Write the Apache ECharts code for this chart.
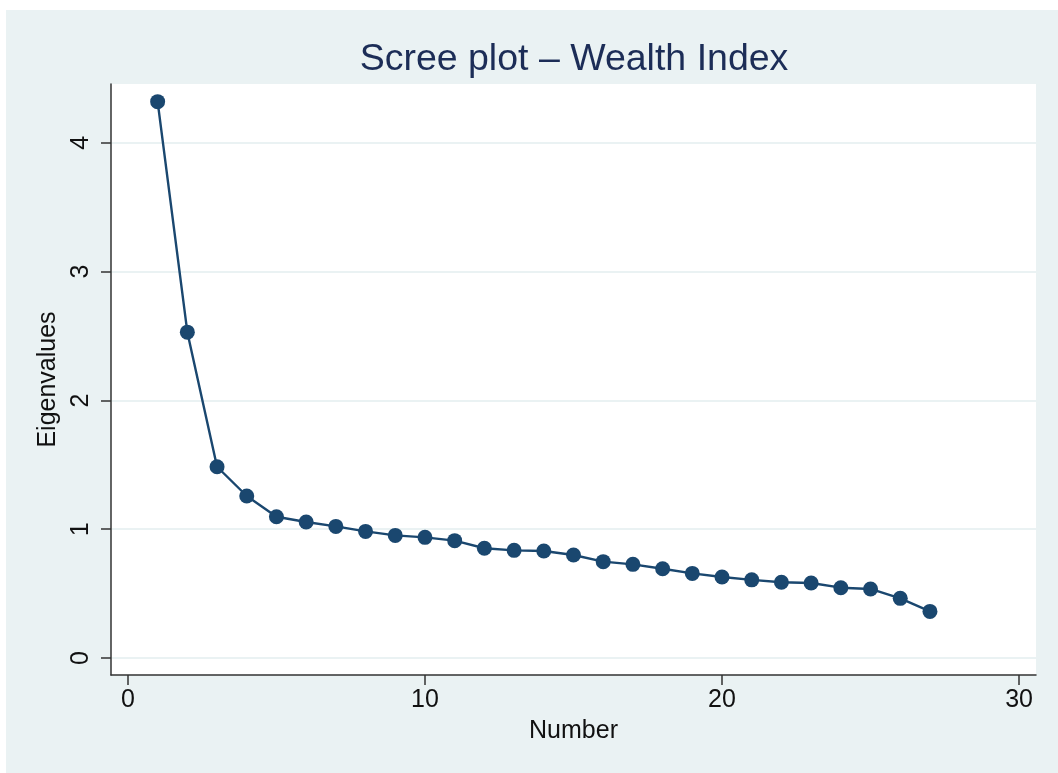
<!DOCTYPE html>
<html>
<head>
<meta charset="utf-8">
<script src="https://cdn.jsdelivr.net/npm/echarts@6/dist/echarts.min.js"></script>
<style>
  html, body { margin:0; padding:0; background:#ffffff; width:1058px; height:773px; overflow:hidden; }
  #chart { position:absolute; left:6px; top:10px; width:1052px; height:763px; background:#eaf2f3; }
</style>
</head>
<body>
<div id="chart"></div>
<script>
const titleText = 'Scree plot \u2013 Wealth Index';
const xName = 'Number';
const yName = 'Eigenvalues';
const components = [1,2,3,4,5,6,7,8,9,10,11,12,13,14,15,16,17,18,19,20,21,22,23,24,25,26,27];
const eigenvalues = [4.32,2.53,1.485,1.258,1.097,1.056,1.022,0.983,0.952,0.937,0.911,0.852,0.836,0.831,0.800,0.748,0.727,0.693,0.657,0.629,0.607,0.588,0.582,0.546,0.536,0.463,0.362];
const xTicks = [0,10,20,30];
const yTicks = [0,1,2,3,4];

const chart = echarts.init(document.getElementById('chart'), null, {renderer:'canvas'});
const font = 'Liberation Sans, Arial, Helvetica, sans-serif';
const axisColor = '#333333';

chart.setOption({
  animation: false,
  backgroundColor: 'transparent',
  title: {
    text: titleText,
    left: 563,
    top: 26,
    textAlign: 'center',
    textStyle: { fontFamily: font, fontSize: 37.5, fontWeight: 'normal', color: '#1c2d57' }
  },
  grid: {
    left: 105, right: 22, top: 74, bottom: 98,
    show: true, backgroundColor: '#ffffff', borderWidth: 0
  },
  xAxis: {
    type: 'value',
    min: -0.57, max: 30.57,
    name: xName,
    nameLocation: 'middle',
    nameGap: 44,
    nameTextStyle: { fontFamily: font, fontSize: 25, color: '#111' },
    axisLine: { show: true, onZero: false, lineStyle: { color: axisColor, width: 1.5 } },
    axisTick: { show: true, length: 10, customValues: xTicks, lineStyle: { color: axisColor, width: 1.5 } },
    axisLabel: { customValues: xTicks, margin: 13, fontFamily: font, fontSize: 25, color: '#111' },
    splitLine: { show: false }
  },
  yAxis: {
    type: 'value',
    min: -0.132, max: 4.457,
    name: yName,
    nameLocation: 'middle',
    nameGap: 46,
    nameRotate: 90,
    nameTextStyle: { fontFamily: font, fontSize: 25, color: '#111' },
    axisLine: { show: true, onZero: false, lineStyle: { color: axisColor, width: 1.5 } },
    axisTick: { show: true, length: 10, customValues: yTicks, lineStyle: { color: axisColor, width: 1.5 } },
    axisLabel: { customValues: yTicks, rotate: 90, margin: 17, fontFamily: font, fontSize: 25, color: '#111' },
    splitLine: { show: true, lineStyle: { color: '#eaf2f3', width: 2 } }
  },
  series: [{
    type: 'line',
    data: components.map((c, i) => [c, eigenvalues[i]]),
    symbol: 'circle',
    symbolSize: 15,
    lineStyle: { color: '#1a476f', width: 2.4 },
    itemStyle: { color: '#1a476f' },
    z: 5
  }]
});
</script>
</body>
</html>
